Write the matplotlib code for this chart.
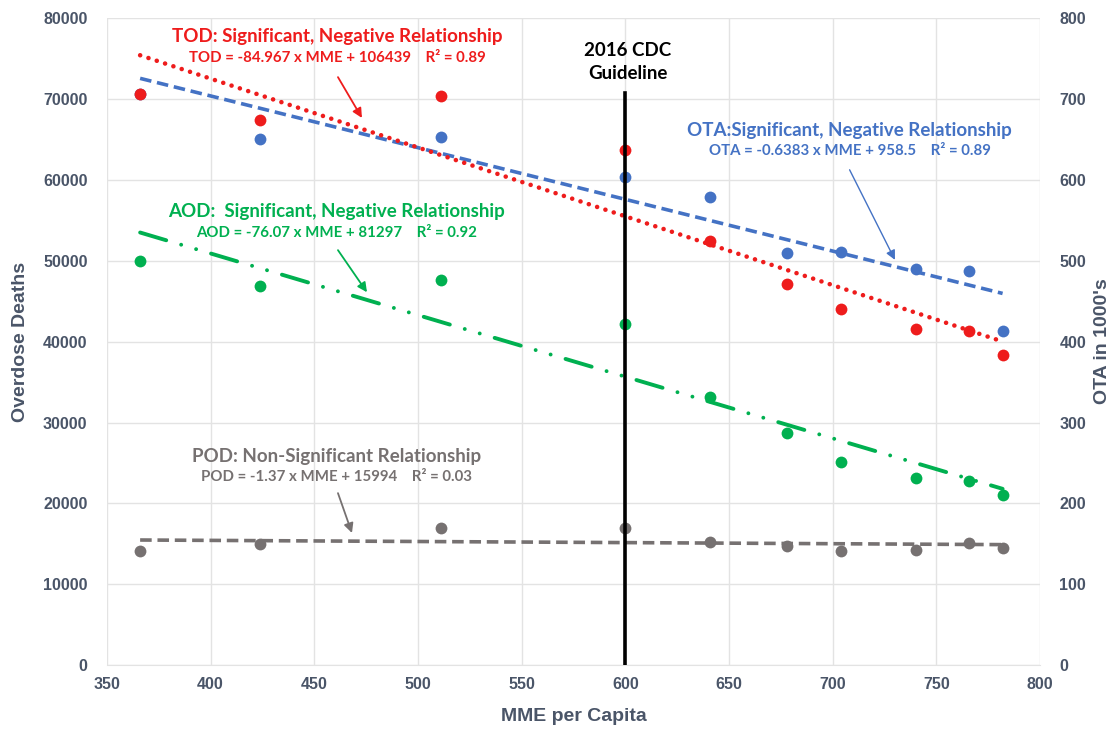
import numpy as np
import matplotlib.pyplot as plt

# MME per capita (x) and overdose deaths / OTA values
mme = [366, 424, 511, 600, 641, 678, 704, 740, 766, 782]
tod = [70600, 67400, 70300, 63600, 52400, 47100, 44000, 41500, 41300, 38300]
aod = [49900, 46800, 47600, 42200, 33100, 28700, 25100, 23100, 22800, 21100]
pod = [14100, 14950, 16950, 16950, 15200, 14800, 14100, 14200, 15100, 14500]
ota = [705, 650, 653, 603, 579, 509, 511, 490, 487, 413]   # in 1000's, right axis

# trendline coefficients printed on the chart (slope, intercept)
tod_fit = (-84.967, 106439)
aod_fit = (-76.07, 81297)
pod_fit = (-1.37, 15994)
ota_fit = (-0.6383, 958.5)

RED = '#EE1C1C'
BLUE = '#4472C4'
GREEN = '#00B050'
GRAY = '#767171'
AXCOL = '#4A5568'
FONT = 'Lato'

fig = plt.figure(figsize=(11.2, 7.33), dpi=100)
ax = fig.add_axes([0.0955, 0.0921, 0.833, 0.884])
ax2 = ax.twinx()

ax.set_xlim(350, 800)
ax.set_ylim(0, 80000)
ax2.set_ylim(0, 800)
ax.set_xticks(np.arange(350, 801, 50))
ax.set_yticks(np.arange(0, 80001, 10000))
ax2.set_yticks(np.arange(0, 801, 100))
ax.grid(True, color='#E3E3E3', lw=1)
ax.set_axisbelow(True)
for a in (ax, ax2):
    for s in a.spines.values():
        s.set_visible(False)
    a.tick_params(length=0, labelsize=11.5, labelcolor=AXCOL)
    for lab in a.get_xticklabels() + a.get_yticklabels():
        lab.set_fontweight('bold')
        lab.set_family('Liberation Sans')
ax.spines['bottom'].set_visible(True)
ax.spines['bottom'].set_color('#E3E3E3')
ax.tick_params(axis='x', pad=8)
ax.tick_params(axis='y', pad=14)
ax2.tick_params(axis='y', pad=14)

ax.set_xlabel('MME per Capita', fontsize=14, fontweight='bold', color=AXCOL,
              family='Liberation Sans', labelpad=12)
ax.set_ylabel('Overdose Deaths', fontsize=14, fontweight='bold', color=AXCOL,
              family='Liberation Sans', labelpad=10)
ax2.set_ylabel("OTA in 1000's", fontsize=14, fontweight='bold', color=AXCOL,
               family='Liberation Sans', labelpad=6)

# trendlines over the data range
xr = np.array([min(mme), max(mme)])
ms = 8.5
ax.plot(mme, np.array(ota) * 100, 'o', color=BLUE, ms=ms, mec='none', zorder=3)
ax.plot(xr, (ota_fit[0] * xr + ota_fit[1]) * 100, color=BLUE, lw=2.6,
        ls=(0, (3.2, 1.6)), zorder=4)
ax.plot(mme, tod, 'o', color=RED, ms=ms, mec='none', zorder=5)
ax.plot(xr, tod_fit[0] * xr + tod_fit[1], color=RED, lw=3.3,
        ls=(0, (0.01, 1.9)), dash_capstyle='round', zorder=6)
ax.plot(mme, aod, 'o', color=GREEN, ms=ms, mec='none', zorder=5)
ax.plot(xr, aod_fit[0] * xr + aod_fit[1], color=GREEN, lw=2.8,
        ls=(0, (7, 4, 0.01, 4, 0.01, 4)), dash_capstyle='round', zorder=6)
ax.plot(mme, pod, 'o', color=GRAY, ms=ms, mec='none', zorder=5)
ax.plot(xr, pod_fit[0] * xr + pod_fit[1], color=GRAY, lw=2.6,
        ls=(0, (3.2, 1.6)), zorder=6)

# 2016 CDC guideline
ax.plot([600, 600], [0, 70700], color='black', lw=2.6, zorder=7)
ax.text(0.558, 0.931, '2016 CDC\nGuideline', transform=ax.transAxes,
        ha='center', va='center', fontsize=13.5, fontweight='bold',
        family=FONT, linespacing=1.45)


def label(fx, fy, title, eq, color):
    ax.text(fx, fy, title, transform=ax.transAxes, ha='center', va='center',
            fontsize=13.5, fontweight='bold', color=color, family=FONT)
    ax.text(fx, fy - 0.032, eq, transform=ax.transAxes, ha='center',
            va='center', fontsize=10.8, fontweight='bold', color=color,
            family=FONT)


def arrow(p0, p1, color, lw):
    ax.annotate('', xy=p1, xytext=p0, xycoords='axes fraction',
                textcoords='axes fraction',
                arrowprops=dict(arrowstyle='-|>', color=color, lw=lw,
                                mutation_scale=14, shrinkA=0, shrinkB=0))


label(0.2465, 0.970, 'TOD: Significant, Negative Relationship',
      'TOD = -84.967 x MME + 106439    R² = 0.89', RED)
arrow((0.2476, 0.908), (0.2733, 0.845), RED, 1.3)

label(0.796, 0.826, 'OTA:Significant, Negative Relationship',
      'OTA = -0.6383 x MME + 958.5    R² = 0.89', BLUE)
arrow((0.796, 0.765), (0.8446, 0.626), BLUE, 1.0)

label(0.2465, 0.700, 'AOD:  Significant, Negative Relationship',
      'AOD = -76.07 x MME + 81297    R² = 0.92', GREEN)
arrow((0.2476, 0.641), (0.2787, 0.576), GREEN, 1.3)

label(0.2465, 0.323, 'POD: Non-Significant Relationship',
      'POD = -1.37 x MME + 15994    R² = 0.03', GRAY)
arrow((0.2476, 0.266), (0.2626, 0.2045), GRAY, 1.3)

fig.savefig('out.png', dpi=100)
